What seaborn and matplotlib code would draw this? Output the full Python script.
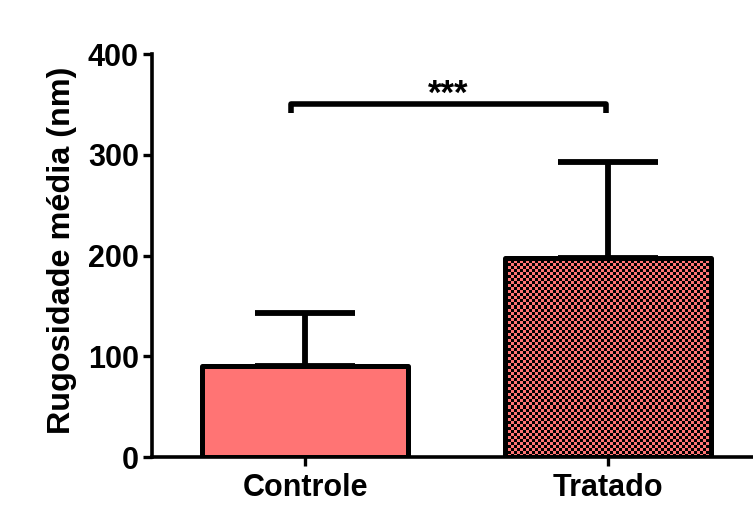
import numpy as np
import matplotlib
matplotlib.use("Agg")
import matplotlib.pyplot as plt
import seaborn as sns

categories = ["Controle", "Tratado"]
means = [90.6, 198.0]
sds = [52.6, 94.8]
yticks = [0, 100, 200, 300, 400]
sig_label = "***"
bracket_y = 350
bracket_drop = 9

pink = "#FF7474"

sns.set_theme(style="white")
plt.rcParams["font.family"] = ["Liberation Sans", "DejaVu Sans"]
plt.rcParams["font.weight"] = "bold"
for k in ["text.color", "axes.labelcolor", "xtick.color", "ytick.color", "axes.edgecolor"]:
    plt.rcParams[k] = "black"

fig = plt.figure(figsize=(7.53, 5.27), dpi=100)
ax = fig.add_axes([0.2019, 0.1328, 0.7981, 0.7647])

sns.barplot(x=categories, y=means, color=pink, saturation=1, width=0.68,
            edgecolor="black", linewidth=3.6, errorbar=None, ax=ax)

xlim = (-0.505, 1.478)
ylim = (0, 400)
ax.set_xlim(*xlim)
ax.set_ylim(*ylim)

patches = ax.patches
centers = [p.get_x() + p.get_width() / 2 for p in patches]
for p in patches:
    p.set_joinstyle("round")
    p.set_zorder(3)

# checkerboard fill for second bar
p2 = patches[1]
fig.canvas.draw()
bb = p2.get_window_extent()
cell = 3.0
nx = max(1, int(round(bb.width / cell)))
ny = max(1, int(round(bb.height / cell)))
ii, jj = np.indices((ny, nx))
checker = ((ii + jj) % 2).astype(float)
cmap = matplotlib.colors.ListedColormap(["black", pink])
im = ax.imshow(checker, extent=(p2.get_x(), p2.get_x() + p2.get_width(), 0, p2.get_height()),
               aspect="auto", cmap=cmap, interpolation="nearest", zorder=2.5, origin="lower")
im.set_clip_path(p2)
p2.set_facecolor("none")
ax.set_xlim(*xlim)
ax.set_ylim(*ylim)

ax.errorbar(centers, means, yerr=[np.zeros(len(sds)), sds], fmt="none",
            ecolor="black", elinewidth=4.2, capsize=36, capthick=4.2, zorder=2)

# significance bracket
bx0 = centers[0] - 0.047
bx1 = centers[1] - 0.007
ax.plot([bx0, bx0, bx1, bx1],
        [bracket_y - bracket_drop, bracket_y, bracket_y, bracket_y - bracket_drop],
        color="black", lw=4, solid_joinstyle="round", solid_capstyle="butt", clip_on=False)
ax.text((bx0 + bx1) / 2, bracket_y - 6, sig_label, ha="center", va="bottom",
        fontsize=25, fontweight="bold")

ax.set_yticks(yticks)
ax.set_yticklabels([str(v) for v in yticks], fontsize=22, fontweight="bold")
ax.set_xticks(centers)
ax.set_xticklabels(categories, fontsize=22, fontweight="bold")
ax.set_ylabel("Rugosidade média (nm)", fontsize=23.3, fontweight="bold", labelpad=8)
ax.yaxis.label.set_y(0.514)
ax.set_xlabel("")

ax.tick_params(axis="both", direction="out", length=6.5, width=2.4, color="black", pad=3,
               left=True, bottom=True)
ax.tick_params(axis="x", pad=5)
for s in ["top", "right"]:
    ax.spines[s].set_visible(False)
for s in ["left", "bottom"]:
    ax.spines[s].set_linewidth(2.6)
    ax.spines[s].set_color("black")

fig.savefig("out.png", dpi=100, facecolor="white")
